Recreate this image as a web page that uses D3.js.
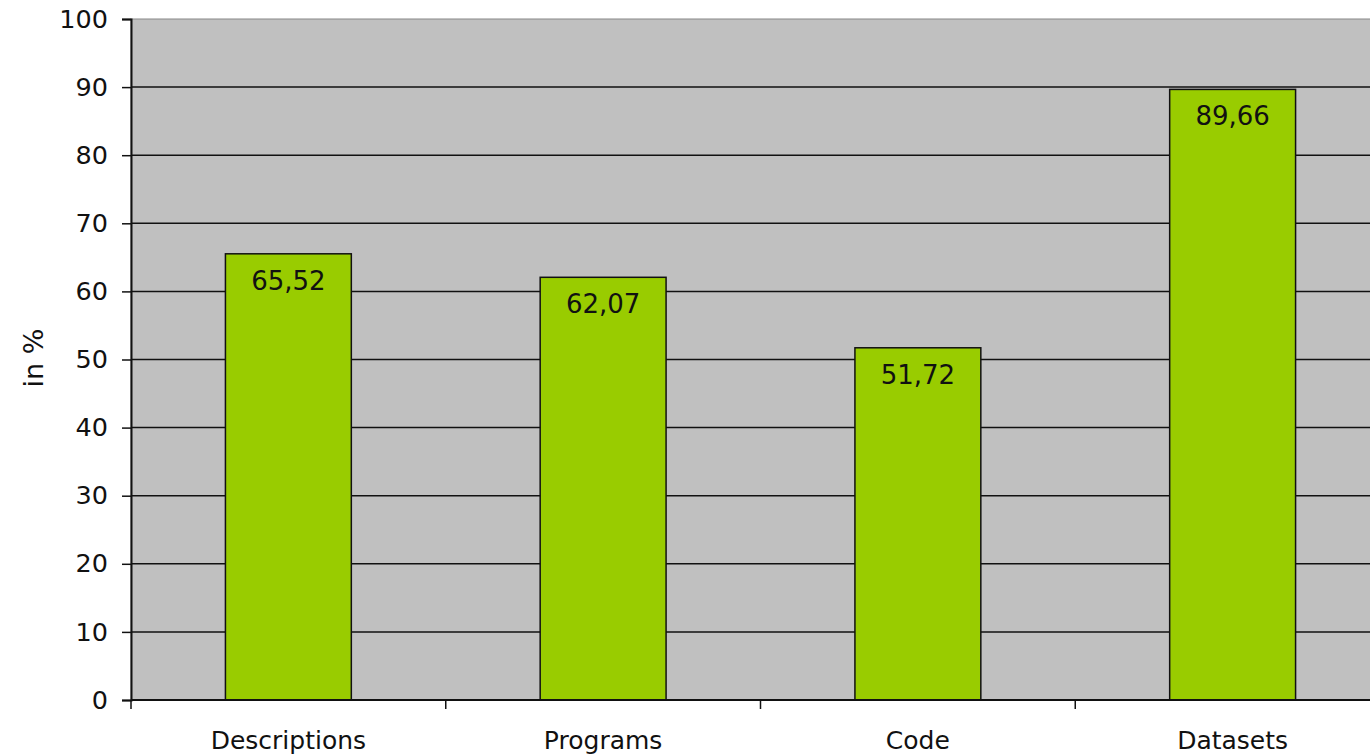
<!DOCTYPE html>
<html>
<head>
<meta charset="utf-8">
<script src="https://cdn.jsdelivr.net/npm/d3@7"></script>
<style>
  body { margin: 0; background: #fff; }
  svg text { font-family: "DejaVu Sans", Verdana, sans-serif; fill: #111; }
</style>
</head>
<body>
<svg id="vis" width="1370" height="756"></svg>
<script>
const categories = ["Descriptions", "Programs", "Code", "Datasets"];
const values = [65.52, 62.07, 51.72, 89.66];
const yTicks = [0, 10, 20, 30, 40, 50, 60, 70, 80, 90, 100];
const valueLabels = ["65,52", "62,07", "51,72", "89,66"];

const svg = d3.select("svg#vis");

// plot area (right edge runs past the window like in the original)
const plotLeft = 131, plotTop = 19, plotRight = 1390, plotBottom = 700;

const x = d3.scaleBand()
  .domain(categories)
  .range([plotLeft, plotRight])
  .paddingInner(0.6)
  .paddingOuter(0.3);

const y = d3.scaleLinear()
  .domain([0, 100])
  .range([plotBottom, plotTop]);

// background
svg.append("rect")
  .attr("x", plotLeft)
  .attr("y", plotTop)
  .attr("width", plotRight - plotLeft)
  .attr("height", plotBottom - plotTop)
  .attr("fill", "#c0c0c0")
  .attr("stroke", "#888")
  .attr("stroke-width", 1);

// grid lines
svg.append("g").selectAll("line")
  .data(yTicks.filter(d => d > 0 && d < 100))
  .enter().append("line")
  .attr("x1", plotLeft)
  .attr("x2", plotRight)
  .attr("y1", d => y(d))
  .attr("y2", d => y(d))
  .attr("stroke", "#111")
  .attr("stroke-width", 1.5);

// bars
svg.append("g").selectAll("rect")
  .data(values)
  .enter().append("rect")
  .attr("x", (d, i) => x(categories[i]))
  .attr("y", d => y(d))
  .attr("width", x.bandwidth())
  .attr("height", d => plotBottom - y(d))
  .attr("fill", "#99cc00")
  .attr("stroke", "#111")
  .attr("stroke-width", 1.5);

// value labels inside the bars
svg.append("g").selectAll("text")
  .data(values)
  .enter().append("text")
  .attr("x", (d, i) => x(categories[i]) + x.bandwidth() / 2)
  .attr("y", d => y(d) + 36)
  .attr("text-anchor", "middle")
  .attr("font-size", 26)
  .text((d, i) => valueLabels[i]);

// y axis
const yAxis = d3.axisLeft(y)
  .tickValues(yTicks)
  .tickSize(9)
  .tickPadding(14);

const yGroup = svg.append("g")
  .attr("transform", "translate(" + plotLeft + ",0)")
  .call(yAxis);
yGroup.select(".domain").attr("stroke", "#111").attr("stroke-width", 2);
yGroup.selectAll(".tick line").attr("stroke", "#111").attr("stroke-width", 1.5);
yGroup.selectAll(".tick text")
  .attr("font-size", 25.5)
  .attr("font-family", "DejaVu Sans, sans-serif")
  .attr("fill", "#111");

// x axis: ticks at category boundaries
const boundaries = categories.map(c => x(c) - x.step() * x.paddingOuter());
const xGroup = svg.append("g");
xGroup.append("line")
  .attr("x1", plotLeft)
  .attr("x2", plotRight)
  .attr("y1", plotBottom)
  .attr("y2", plotBottom)
  .attr("stroke", "#111")
  .attr("stroke-width", 2);
xGroup.selectAll("line.tick")
  .data(boundaries)
  .enter().append("line")
  .attr("class", "tick")
  .attr("x1", d => d)
  .attr("x2", d => d)
  .attr("y1", plotBottom)
  .attr("y2", plotBottom + 9)
  .attr("stroke", "#111")
  .attr("stroke-width", 1.5);
xGroup.selectAll("text")
  .data(categories)
  .enter().append("text")
  .attr("x", d => x(d) + x.bandwidth() / 2)
  .attr("y", 749)
  .attr("text-anchor", "middle")
  .attr("font-size", 25)
  .text(d => d);

// y axis title
svg.append("text")
  .attr("transform", "translate(43,358) rotate(-90)")
  .attr("text-anchor", "middle")
  .attr("font-size", 27)
  .text("in %");
</script>
</body>
</html>
